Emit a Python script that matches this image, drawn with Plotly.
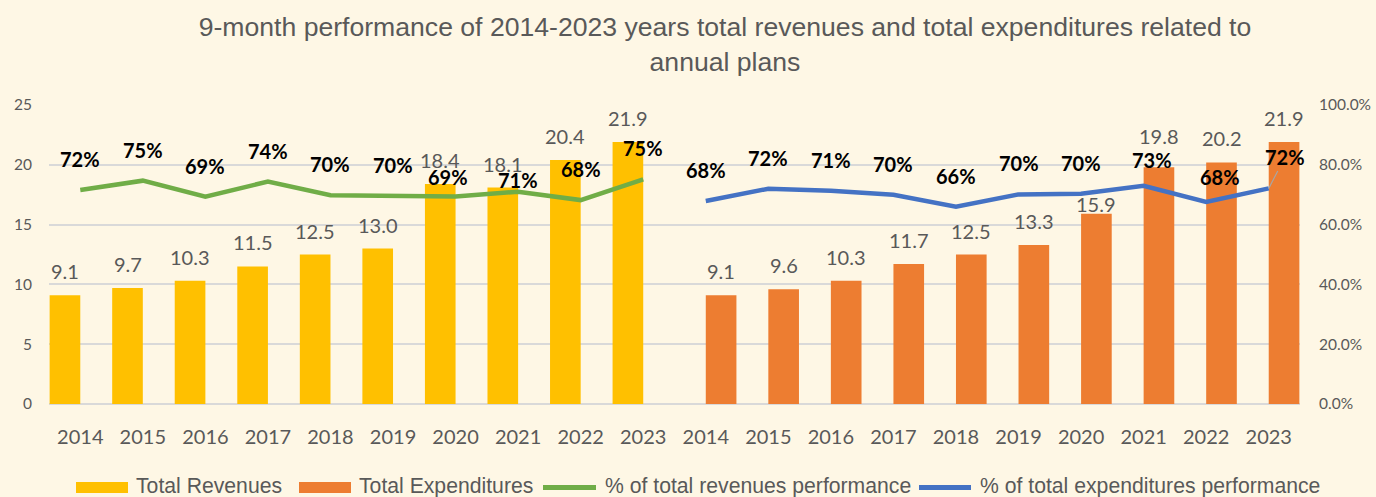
import plotly.graph_objects as go

# ---------------- data ----------------
years = ["2014", "2015", "2016", "2017", "2018", "2019", "2020", "2021", "2022", "2023"]
revenues = [9.1, 9.7, 10.3, 11.5, 12.5, 13.0, 18.4, 18.1, 20.4, 21.9]
expenditures = [9.1, 9.6, 10.3, 11.7, 12.5, 13.3, 15.9, 19.8, 20.2, 21.9]
rev_perf = [0.716, 0.747, 0.693, 0.744, 0.698, 0.697, 0.694, 0.710, 0.682, 0.751]
exp_perf = [0.679, 0.720, 0.713, 0.700, 0.660, 0.701, 0.703, 0.730, 0.676, 0.721]
tick_labels = years + years
series_names = ["Total Revenues", "Total Expenditures",
                "% of total revenues performance", "% of total expenditures performance"]
title_text = ("9-month performance of 2014-2023 years total revenues and total expenditures related to"
              "<br>annual plans")

# ---------------- styling ----------------
BG = "#FEF7E5"
GRAY = "#595959"
C_REV = "#FFC000"
C_EXP = "#ED7D31"
C_RLINE = "#70AD47"
C_ELINE = "#4472C4"
FONT = "Lato, Carlito, 'Open Sans', sans-serif"
FONT_T = "'Liberation Sans', Arial, sans-serif"
W, H = 1376, 497
ML, MR, MT, MB = 49, 76, 105, 93
PW, PH = W - ML - MR, H - MT - MB
BAR_W = 0.49
BAR_LABEL_SHIFT = 24
PCT_LABEL_SHIFT = 31
# per-label nudges (dx px, dy px) -- Excel manual label placement
bar_nudge = {("exp", 7): (0, 7), ("exp", 6): (0, -14)}
pct_nudge = {("rev", 6): (-8, -12), ("rev", 7): (0, -19),
             ("exp", 7): (8, -5), ("exp", 8): (14, -6)}
leader_label = ("exp", 9, 16, -31)
# legend layout (pixel positions): swatch x0, swatch x1, text x
legend_slots = [(76, 128, 134), (299, 351, 357), (541, 598, 603), (917, 973, 978)]
legend_kinds = ["rect", "rect", "line", "line"]
LEG_RECT_Y = (482, 493)
LEG_LINE_Y = 487.5
LEG_TEXT_Y = 485.5


def px_x(px):
    return (px - ML) / PW


def px_y(py):
    return (H - MB - py) / PH


n = len(years)
rev_x = list(range(n))
exp_x = list(range(n, 2 * n))

fig = go.Figure()
fig.add_trace(go.Bar(x=rev_x, y=revenues, width=BAR_W, offset=-BAR_W,
                     marker=dict(color=C_REV, line=dict(width=0)),
                     name=series_names[0]))
fig.add_trace(go.Bar(x=exp_x, y=expenditures, width=BAR_W, offset=0,
                     marker=dict(color=C_EXP, line=dict(width=0)),
                     name=series_names[1]))
fig.add_trace(go.Scatter(x=rev_x, y=rev_perf, yaxis="y2", mode="lines",
                         line=dict(color=C_RLINE, width=4.5),
                         name=series_names[2]))
fig.add_trace(go.Scatter(x=exp_x, y=exp_perf, yaxis="y2", mode="lines",
                         line=dict(color=C_ELINE, width=4.5),
                         name=series_names[3]))

annotations = []
shapes = []
# bar value labels
for key, xs, vals, off in [("rev", rev_x, revenues, -BAR_W / 2), ("exp", exp_x, expenditures, BAR_W / 2)]:
    for i, (x, v) in enumerate(zip(xs, vals)):
        dx, dy = bar_nudge.get((key, i), (0, 0))
        annotations.append(dict(x=x + off, y=v, xref="x", yref="y", text=f"{v:.1f}",
                                showarrow=False, xshift=dx, yshift=BAR_LABEL_SHIFT + dy,
                                font=dict(family=FONT, size=20, color=GRAY)))
# percent labels
for key, xs, vals in [("rev", rev_x, rev_perf), ("exp", exp_x, exp_perf)]:
    for i, (x, v) in enumerate(zip(xs, vals)):
        txt = f"<b>{v * 100:.0f}%</b>"
        if (key, i) == leader_label[:2]:
            annotations.append(dict(x=x, y=v, xref="x", yref="y2", text=txt,
                                    showarrow=True, arrowhead=0, arrowwidth=1.2,
                                    arrowcolor="#A6A6A6", ax=leader_label[2], ay=leader_label[3],
                                    standoff=0,
                                    font=dict(family=FONT, size=20, color="#000000")))
            continue
        dx, dy = pct_nudge.get((key, i), (0, 0))
        annotations.append(dict(x=x, y=v, xref="x", yref="y2", text=txt,
                                showarrow=False, xshift=dx, yshift=PCT_LABEL_SHIFT + dy,
                                font=dict(family=FONT, size=20, color="#000000")))

# legend (drawn like Excel's wide swatches)
for tr, (x0, x1, tx), kind in zip(fig.data, legend_slots, legend_kinds):
    color = tr.marker.color if kind == "rect" else tr.line.color
    if kind == "rect":
        shapes.append(dict(type="rect", xref="paper", yref="paper",
                           x0=px_x(x0), x1=px_x(x1), y0=px_y(LEG_RECT_Y[1]), y1=px_y(LEG_RECT_Y[0]),
                           fillcolor=color, line=dict(width=0), layer="above"))
    else:
        shapes.append(dict(type="line", xref="paper", yref="paper",
                           x0=px_x(x0 + 2), x1=px_x(x1 - 2), y0=px_y(LEG_LINE_Y), y1=px_y(LEG_LINE_Y),
                           line=dict(color=color, width=5), layer="above"))
    annotations.append(dict(x=px_x(tx), y=px_y(LEG_TEXT_Y), xref="paper", yref="paper",
                            xanchor="left", yanchor="middle", text=tr.name, showarrow=False,
                            font=dict(family=FONT_T, size=21.2, color=GRAY)))

fig.update_layout(
    width=W, height=H,
    paper_bgcolor=BG, plot_bgcolor=BG,
    margin=dict(l=ML, r=MR, t=MT, b=MB, autoexpand=False),
    showlegend=False,
    title=dict(text=title_text, x=725 / W, xanchor="center", xref="container",
               y=1 - 36 / H, yanchor="top", yref="container",
               font=dict(family=FONT_T, size=26.6, color=GRAY)),
    xaxis=dict(range=[-0.5, 2 * n - 0.5], tickmode="array", tickvals=list(range(2 * n)),
               ticktext=tick_labels, showgrid=False, showline=False, zeroline=False,
               ticks="", ticklabelstandoff=19, automargin=False,
               tickfont=dict(family=FONT, size=20, color=GRAY)),
    yaxis=dict(range=[0, 25], dtick=5, showgrid=True, gridcolor="#D9D9D9", gridwidth=1.5,
               zeroline=True, zerolinecolor="#D9D9D9", zerolinewidth=1.5,
               ticks="", ticklabelstandoff=16, automargin=False,
               tickfont=dict(family=FONT, size=15.5, color=GRAY)),
    yaxis2=dict(range=[0, 1], dtick=0.2, tickformat=".1%", overlaying="y", side="right",
                showgrid=False, zeroline=False, ticks="", ticklabelstandoff=18, automargin=False,
                tickfont=dict(family=FONT, size=15.5, color=GRAY)),
    annotations=annotations,
    shapes=shapes,
)

fig.write_html("out.html", config={"displayModeBar": False},
               post_script="document.body.style.margin='0';document.body.style.background='" + BG + "';")
